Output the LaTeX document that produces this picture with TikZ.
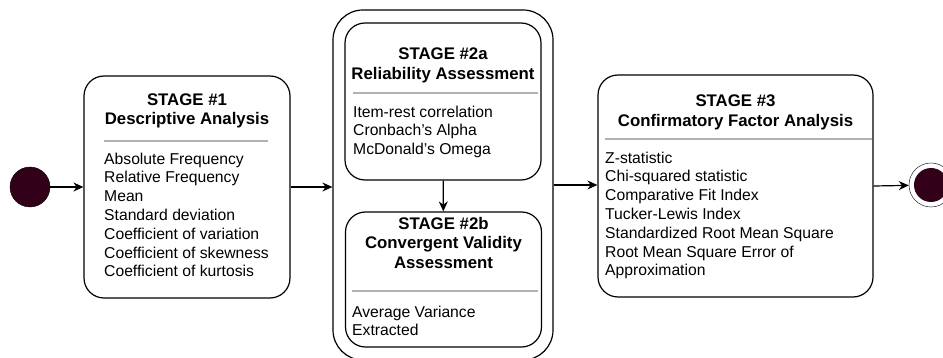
\documentclass[tikz,border=0pt]{standalone}
\usepackage{fontspec}
\setmainfont{Liberation Sans}
\usetikzlibrary{arrows.meta}
\definecolor{dotfill}{HTML}{33001A}
\begin{document}
\begin{tikzpicture}[x=1pt,y=-1pt,
    stagebox/.style={draw,rounded corners=20pt,line width=1.2pt,inner sep=0pt},
    title/.style={font=\fontsize{16.8}{19.5}\selectfont\bfseries,align=center},
    items/.style={font=\fontsize{15.7}{18.8}\selectfont,align=left,anchor=north west,inner sep=0pt},
    sepline/.style={gray!60,line width=1.5pt},
    flow/.style={-{Stealth[length=10pt,width=9pt]},line width=1.2pt}]
    \useasboundingbox (0,0) rectangle (943,358);
    % start and end
    \node[circle,draw,fill=dotfill,minimum size=40pt,inner sep=0pt] (start) at (30,187) {};
    \node[circle,draw,minimum size=44pt,inner sep=0pt] (stop) at (931,185) {};
    \node[circle,fill=dotfill,minimum size=34pt,inner sep=0pt] (stopdot) at (931,185) {};
    % stage 1
    \node[stagebox,minimum width=206pt,minimum height=222pt] (s1) at (187,187) {};
    \node[title] (t1) at (187,111) {STAGE \#1\\Descriptive Analysis};
    \draw[sepline] (104,141) -- (268,141);
    \node[items] (i1) at (104,152.5) {Absolute Frequency\\Relative Frequency\\Mean\\Standard deviation\\Coefficient of variation\\Coefficient of skewness\\Coefficient of kurtosis};
    % stage 2
    \node[stagebox,rounded corners=30pt,minimum width=220pt,minimum height=350pt] (s2) at (443,185) {};
    \node[stagebox,minimum width=196pt,minimum height=157pt] (s2a) at (443,101.5) {};
    \node[title] (t2a) at (443,65.5) {STAGE \#2a\\Reliability Assessment};
    \draw[sepline] (353,93) -- (538,93);
    \node[items] (i2a) at (353,105.5) {Item-rest correlation\\Cronbach's Alpha\\McDonald's Omega};
    \node[stagebox,minimum width=196pt,minimum height=135pt] (s2b) at (443.5,279.5) {};
    \node[title] (t2b) at (443.5,242.5) {STAGE \#2b\\Convergent Validity\\Assessment};
    \draw[sepline] (352,291) -- (538,291);
    \node[items] (i2b) at (352,305.5) {Average Variance\\Extracted};
    % stage 3
    \node[stagebox,minimum width=275pt,minimum height=222pt] (s3) at (735.5,186) {};
    \node[title] (t3) at (735.5,112.5) {STAGE \#3\\Confirmatory Factor Analysis};
    \draw[sepline] (605,139) -- (872,139);
    \node[items] (i3) at (605,151.5) {Z-statistic\\Chi-squared statistic\\Comparative Fit Index\\Tucker-Lewis Index\\Standardized Root Mean Square\\Root Mean Square Error of\\Approximation};
    % flow
    \draw[flow] (start) -- (s1);
    \draw[flow] (s1.east) -- (s1.east -| s2.west);
    \draw[flow] (s2a) -- (s2b);
    \draw[flow] (s2.east) -- (s2.east -| s3.west);
    \draw[flow] (s3.east) -- (stop);
\end{tikzpicture}
\end{document}
